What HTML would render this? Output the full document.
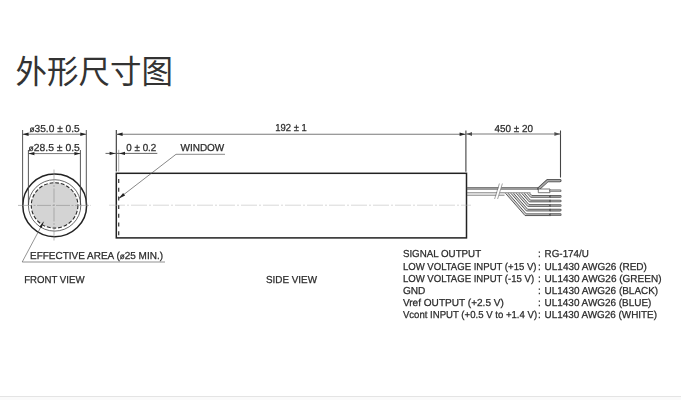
<!DOCTYPE html>
<html lang="zh">
<head>
<meta charset="utf-8">
<title>外形尺寸图</title>
<style>
html,body{margin:0;padding:0;background:#fff;}
body{width:681px;height:400px;position:relative;overflow:hidden;font-family:"Liberation Sans","Noto Sans CJK SC",sans-serif;}
h2{position:absolute;left:15.5px;top:50.3px;margin:0;font-weight:400;font-size:31.5px;line-height:44px;color:#333;letter-spacing:0;font-family:"Liberation Sans","Noto Sans CJK SC",sans-serif;}
.foot{position:absolute;left:0;top:396px;width:681px;height:4px;background:#fafafa;border-top:1px solid #e4e4e4;}
svg{position:absolute;left:0;top:0;}
svg text{font-family:"Liberation Sans",sans-serif;font-size:10.1px;text-rendering:geometricPrecision;fill:#2b2b2b;stroke:#2b2b2b;stroke-width:0.25px;}
</style>
</head>
<body>
<h2>外形尺寸图</h2>
<svg width="681" height="400" viewBox="0 0 681 400">
<defs>
<filter id="b" x="-5%" y="-5%" width="110%" height="110%"><feGaussianBlur stdDeviation="0.5"/></filter>
</defs>
<g filter="url(#b)" fill="none" stroke="#444" stroke-width="0.9">
<!-- front view -->
<ellipse cx="54.6" cy="205.4" rx="23.3" ry="22.7" fill="#d4d4d4" stroke="#2a2a2a" stroke-width="1.1" stroke-dasharray="3.8 1.9"/>
<ellipse cx="54.6" cy="205.4" rx="26.2" ry="25.7" stroke="#444" stroke-width="0.8"/>
<ellipse cx="54.7" cy="205.4" rx="31.9" ry="31.3" stroke="#222" stroke-width="1.5"/>
<path d="M18 205.4H91M54 169.5V242" stroke="#8c8c8c" stroke-width="0.6" stroke-dasharray="14 1.5 2 1.5"/>
<path d="M22.6 130V205M86.3 130V205M28.4 150V205M80.4 150V205" stroke="#444" stroke-width="0.9"/>
<path d="M22.6 134.2H86.3M28.4 153.6H80.4" stroke="#555" stroke-width="0.8"/>
<path d="M22.6 134.2l6-1.7v3.4zM86.3 134.2l-6-1.7v3.4zM28.4 153.6l6-1.7v3.4zM80.4 153.6l-6-1.7v3.4z" fill="#222" stroke="none"/>
<path d="M43.6 221.8L22.2 262H165" stroke="#666" stroke-width="0.7"/>
<path d="M43.7 221.5L41.7 227.9L39.3 226.7z" fill="#222" stroke="none"/>
<!-- side view -->
<rect x="116.3" y="173.3" width="350.2" height="64.6" stroke="#222" stroke-width="1.5"/>
<path d="M118.7 179V236" stroke="#333" stroke-width="1.2" stroke-dasharray="4 4.7"/>
<path d="M109 205.2H471" stroke="#b0b0b0" stroke-width="0.5" stroke-dasharray="16 2 2 2"/>
<path d="M116.3 130V171.5" stroke="#333" stroke-width="1.1"/>
<path d="M118.7 149.8V171.5" stroke="#777" stroke-width="0.6"/>
<path d="M116.4 134.2H465.8" stroke="#7a7a7a" stroke-width="1.1"/>
<path d="M116.6 134.2l6-1.7v3.4zM465.6 134.2l-6-1.7v3.4zM466 134l6-1.7v3.4zM560.4 134l-6-1.7v3.4z" fill="#222" stroke="none"/>
<path d="M465.9 130.5V171.7M560.5 130.5V177.5" stroke="#444" stroke-width="1.1"/>
<path d="M465.8 134H560.5" stroke="#7a7a7a" stroke-width="1.1"/>
<path d="M105.5 153.4H157.3" stroke="#555" stroke-width="0.9"/>
<path d="M115.4 153.4l-5.8-1.7v3.4zM119.2 153.4l5.8-1.7v3.4z" fill="#222" stroke="none"/>
<path d="M225 154.3H176L118.8 198.4" stroke="#555" stroke-width="0.7"/>
<path d="M118.5 198.7L123.1 193L125.1 195.6z" fill="#222" stroke="none"/>
<!-- cable -->
<path d="M466.8 187.9H538.5" stroke="#555" stroke-width="1.1"/>
<path d="M466.8 189.3H538.5M466.8 192.8H530.5M466.8 195.2H504.5" stroke="#4a4a4a" stroke-width="0.7"/>
<path d="M495.2 199l4.6-15.5h2.6l-4.6 15.5z" fill="#fff" stroke="none"/>
<path d="M494.6 199l4.8-15.5M497.6 199l4.8-15.5" stroke="#666" stroke-width="0.6"/>
<path d="M528.4 193.3L531.2 196.4H549.6M523.0 193.3L529.8 201.0H549.6M517.6 193.3L528.4 205.5H549.6M512.2 193.3L527.0 210.1H549.6M506.8 193.3L525.6 214.7H549.6" stroke="#d2d2d2" stroke-width="1.5"/>
<path d="M529.8 193.3L531.8 195.55H549.6M527.1 193.3L530.6 197.25H549.6M524.4 193.3L530.4 200.15H549.6M521.7 193.3L529.2 201.85H549.6M519.0 193.3L529.0 204.65H549.6M516.3 193.3L527.7 206.35H549.6M513.6 193.3L527.6 209.25H549.6M510.9 193.3L526.4 210.95H549.6M508.2 193.3L526.2 213.85H549.6M505.5 193.3L525.0 215.55H549.6" stroke="#333" stroke-width="0.8"/>
<path d="M538.8 188.6l8.7-8H560" stroke="#444" stroke-width="3.1" stroke-linejoin="round" stroke-linecap="round"/>
<path d="M539.2 188.3l8.5-7.7H559.8" stroke="#a8a8a8" stroke-width="1.7" stroke-linejoin="round" stroke-linecap="round"/>
<path d="M538.3 189H550V192.7H538.3z" fill="#fff" stroke="#444" stroke-width="0.7"/>
<path d="M550.4 190.8H560.2" stroke="#666" stroke-width="2.5" stroke-linecap="round"/>
<path d="M550.6 190.8H560" stroke="#c4c4c4" stroke-width="1.3" stroke-linecap="round"/>
<path d="M550.6 196.4H560.2M550.6 201.0H560.2M550.6 205.5H560.2M550.6 210.1H560.2M550.6 214.7H560.2" stroke="#555" stroke-width="2.7" stroke-linecap="round"/>
<path d="M550.6 196.4H560.2M550.6 201.0H560.2M550.6 205.5H560.2M550.6 210.1H560.2M550.6 214.7H560.2" stroke="#999" stroke-width="1.4" stroke-linecap="round"/>
<path d="M550 195.0v2.8M550 199.6v2.8M550 204.1v2.8M550 208.7v2.8M550 213.3v2.8" stroke="#3a3a3a" stroke-width="0.9"/>
</g>
<g filter="url(#b)">
<text x="29.5" y="131.5" textLength="50.2" lengthAdjust="spacingAndGlyphs"><tspan font-size="8.2">ø</tspan>35.0 ± 0.5</text>
<text x="28.6" y="151" textLength="51.2" lengthAdjust="spacingAndGlyphs"><tspan font-size="8.2">ø</tspan>28.5 ± 0.5</text>
<text x="126.3" y="150.8" textLength="30" lengthAdjust="spacingAndGlyphs">0 ± 0.2</text>
<text x="180.5" y="150.8" textLength="43.8" lengthAdjust="spacingAndGlyphs">WINDOW</text>
<text x="275.2" y="131.4" textLength="31.6" lengthAdjust="spacingAndGlyphs">192 ± 1</text>
<text x="494.5" y="132" textLength="38.5" lengthAdjust="spacingAndGlyphs">450 ± 20</text>
<text x="30" y="259.2" textLength="133" lengthAdjust="spacingAndGlyphs">EFFECTIVE AREA (<tspan font-size="8.2">ø</tspan>25 MIN.)</text>
<text x="24.2" y="283" textLength="60.3" lengthAdjust="spacingAndGlyphs">FRONT VIEW</text>
<text x="266" y="283" textLength="51" lengthAdjust="spacingAndGlyphs">SIDE VIEW</text>
<text x="402.9" y="257.4" textLength="78.2" lengthAdjust="spacingAndGlyphs">SIGNAL OUTPUT</text>
<text x="402.9" y="270.1" textLength="133.6" lengthAdjust="spacingAndGlyphs">LOW VOLTAGE INPUT (+15 V)</text>
<text x="402.9" y="281.8" textLength="131.2" lengthAdjust="spacingAndGlyphs">LOW VOLTAGE INPUT (-15 V)</text>
<text x="402.9" y="293.8">GND</text>
<text x="402.9" y="305.7" textLength="101" lengthAdjust="spacingAndGlyphs">Vref OUTPUT (+2.5 V)</text>
<text x="402.9" y="317.6" textLength="134.2" lengthAdjust="spacingAndGlyphs">Vcont INPUT (+0.5 V to +1.4 V)</text>
<text x="538" y="257.4">:</text><text x="544.6" y="257.4" textLength="44.3" lengthAdjust="spacingAndGlyphs">RG-174/U</text>
<text x="538" y="270.1">:</text><text x="544.6" y="270.1" textLength="102.3" lengthAdjust="spacingAndGlyphs">UL1430 AWG26 (RED)</text>
<text x="538" y="281.8">:</text><text x="544.6" y="281.8" textLength="116.9" lengthAdjust="spacingAndGlyphs">UL1430 AWG26 (GREEN)</text>
<text x="538" y="293.8">:</text><text x="544.6" y="293.8" textLength="113.6" lengthAdjust="spacingAndGlyphs">UL1430 AWG26 (BLACK)</text>
<text x="538" y="305.7">:</text><text x="544.6" y="305.7" textLength="106.8" lengthAdjust="spacingAndGlyphs">UL1430 AWG26 (BLUE)</text>
<text x="538" y="317.6">:</text><text x="544.6" y="317.6" textLength="112.4" lengthAdjust="spacingAndGlyphs">UL1430 AWG26 (WHITE)</text>
</g>
</svg>
<div class="foot"></div>
</body>
</html>
